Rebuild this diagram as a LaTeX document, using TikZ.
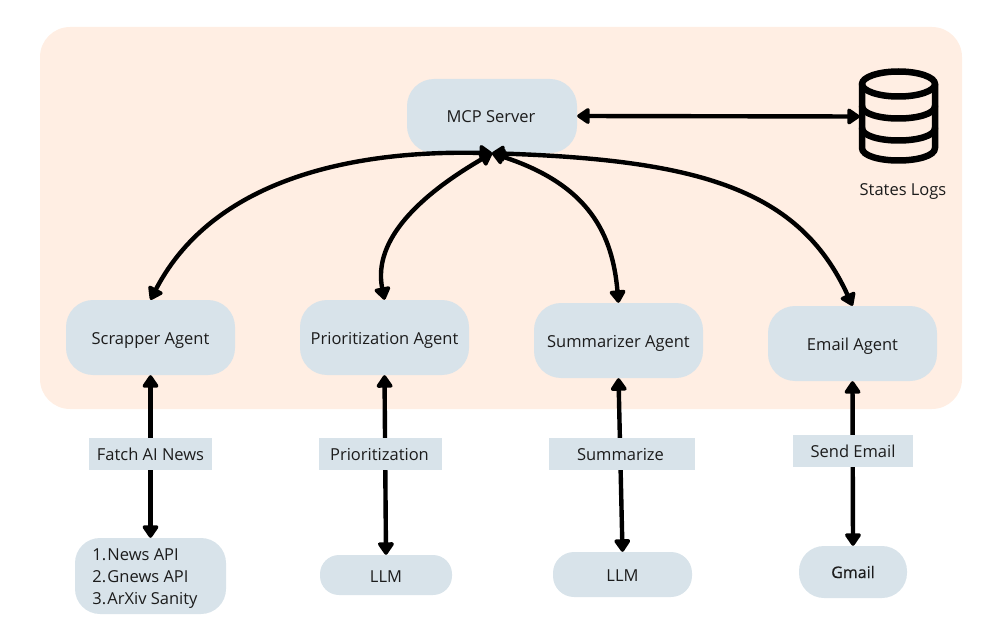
\documentclass[tikz,border=0pt]{standalone}
\usepackage{fontspec}
\setmainfont{Open Sans}
\usetikzlibrary{arrows.meta}
\definecolor{panelc}{HTML}{FFEEE3}
\definecolor{nodec}{HTML}{D8E3EA}
\definecolor{textc}{HTML}{1C1C1C}
\tikzset{
  box/.style={fill=nodec,draw=none,inner sep=0pt,text=textc,font=\fontsize{16.5}{22}\selectfont},
  one/.style={text height=12pt,text depth=0pt},
  two/.style={text height=14pt,text depth=0pt},
  rbox/.style={box,rounded corners=#1},
  rbox/.default=27pt,
  lab/.style={box,one},
  link/.style={line width=4.4pt,{Triangle[length=14pt,width=18pt,round]}-{Triangle[length=14pt,width=18pt,round]}},
  dbline/.style={line width=6.5pt,line cap=round,line join=round},
}
\begin{document}
\begin{tikzpicture}[x=1pt,y=-1pt]
\useasboundingbox (0,0) rectangle (996,639);
\fill[panelc,rounded corners=30pt] (40,27) rectangle (962,409);
% main nodes
\node[rbox,two,minimum width=170pt,minimum height=74pt] (mcp) at (492,116) {\hspace*{-2pt}MCP Server};
\node[rbox,two,minimum width=169pt,minimum height=75pt] (scrap) at (150.5,337.5) {Scrapper Agent};
\node[rbox,two,minimum width=169pt,minimum height=75pt] (prio) at (384.5,337.5) {Prioritization Agent};
\node[rbox,two,minimum width=169pt,minimum height=75pt] (summ) at (618.5,340.5) {Summarizer Agent};
\node[rbox,two,minimum width=169pt,minimum height=75pt] (mail) at (852.5,343.5) {Email Agent};
% bottom nodes
\node[rbox=25pt,align=left,minimum width=151pt,minimum height=76pt] (news) at (150.5,576) {\rule{0pt}{16pt}\makebox[15pt][l]{1.}News API\hspace*{11pt}\\\makebox[15pt][l]{2.}Gnews API\hspace*{11pt}\\\makebox[15pt][l]{3.}ArXiv Sanity\hspace*{11pt}};
\node[rbox=19pt,two,minimum width=132pt,minimum height=40pt] (llma) at (386,575) {LLM};
\node[rbox=21pt,two,minimum width=139pt,minimum height=45pt] (llmb) at (622.5,574.5) {LLM};
\node[rbox=25pt,one,minimum width=108pt,minimum height=52pt,font=\fontsize{16}{22}\selectfont\addfontfeatures{FakeBold=0.3}] (gm) at (853,572) {Gmail};
% database
\node[minimum width=77pt,minimum height=97pt,inner sep=0pt] (db) at (898.5,116.5) {};
\draw[dbline] (898.5,84) ellipse [x radius=36.5pt,y radius=12.5pt];
\draw[dbline] (862,84) -- (862,148) .. controls (862,156) and (880,160.5) .. (898.5,160.5) .. controls (917,160.5) and (935,156) .. (935,148) -- (935,84);
\draw[dbline] (862,106) .. controls (862,114) and (880,118.5) .. (898.5,118.5) .. controls (917,118.5) and (935,114) .. (935,106);
\draw[dbline] (862,128) .. controls (862,136) and (880,140.5) .. (898.5,140.5) .. controls (917,140.5) and (935,136) .. (935,128);
\node[text=textc,font=\fontsize{16.5}{18}\selectfont,inner sep=0pt,one] (dblabel) at (903,189.5) {States Logs};
% connectors
\draw[link] (mcp.east) -- (db.west);
\draw[link] (scrap.north) .. controls +(65,-125) and +(-130,-3) .. (mcp.south);
\draw[link] (prio.north) .. controls +(-12,-60) and +(-72,42) .. (mcp.south);
\draw[link] (summ.north) .. controls +(-6,-68) and +(98,32) .. (mcp.south);
\draw[link] (mail.north) .. controls +(-53,-116) and +(208,7) .. (mcp.south);
\draw[link] (scrap.south) -- (news.north);
\draw[link] (prio.south) -- (llma.north);
\draw[link] (summ.south) -- (llmb.north);
\draw[link] (mail.south) -- (gm.north);
% labels
\node[lab,minimum width=123pt,minimum height=32pt] (l1) at (150.5,454) {Fatch AI News};
\node[lab,minimum width=123pt,minimum height=32pt] (l2) at (380.5,454) {\hspace*{-2pt}Prioritization};
\node[lab,minimum width=146pt,minimum height=32pt] (l3) at (622,454) {\hspace*{-3pt}Summarize};
\node[lab,minimum width=120pt,minimum height=32pt] (l4) at (853,451) {Send Email};
\end{tikzpicture}
\end{document}
